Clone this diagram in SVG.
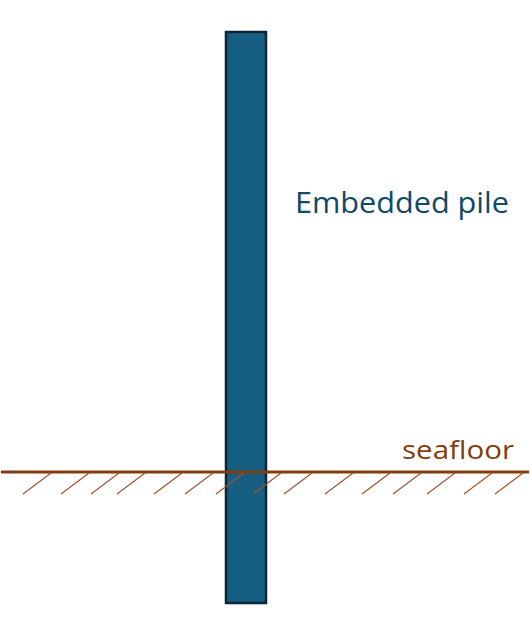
<svg xmlns="http://www.w3.org/2000/svg" width="532" height="642" viewBox="0 0 532 642">
<style>
.lbl{font-family:"Open Sans","Liberation Sans",sans-serif}
.hatch{stroke:#a0522d;stroke-width:1.2}
</style>
<rect width="532" height="642" fill="#ffffff"/>
<g id="pile">
<rect x="226" y="32" width="40" height="571" fill="#165f82" stroke="#0b2637" stroke-width="2.5"/>
</g>
<g id="seafloor">
<line x1="1" y1="472" x2="529" y2="472" stroke="#843c0c" stroke-width="3"/>
<g class="hatch">
<line x1="23" y1="494" x2="51" y2="473"/>
<line x1="61" y1="494" x2="89" y2="473"/>
<line x1="91" y1="494" x2="119" y2="473"/>
<line x1="117" y1="494" x2="145" y2="473"/>
<line x1="154" y1="494" x2="182" y2="473"/>
<line x1="185" y1="494" x2="213" y2="473"/>
<line x1="216" y1="494" x2="244" y2="473"/>
<line x1="253" y1="494" x2="281" y2="473"/>
<line x1="284" y1="494" x2="312" y2="473"/>
<line x1="325" y1="494" x2="353" y2="473"/>
<line x1="362" y1="494" x2="390" y2="473"/>
<line x1="393" y1="494" x2="421" y2="473"/>
<line x1="427" y1="494" x2="455" y2="473"/>
<line x1="464" y1="494" x2="492" y2="473"/>
<line x1="495" y1="494" x2="523" y2="473"/>
</g>
<text class="lbl" x="402" y="459" font-size="25.5" fill="#843c0c" textLength="112" lengthAdjust="spacingAndGlyphs">seafloor</text>
</g>
<g id="label">
<text class="lbl" x="295" y="213" font-size="29.5" fill="#0f4a68" textLength="214" lengthAdjust="spacingAndGlyphs">Embedded pile</text>
</g>
</svg>
